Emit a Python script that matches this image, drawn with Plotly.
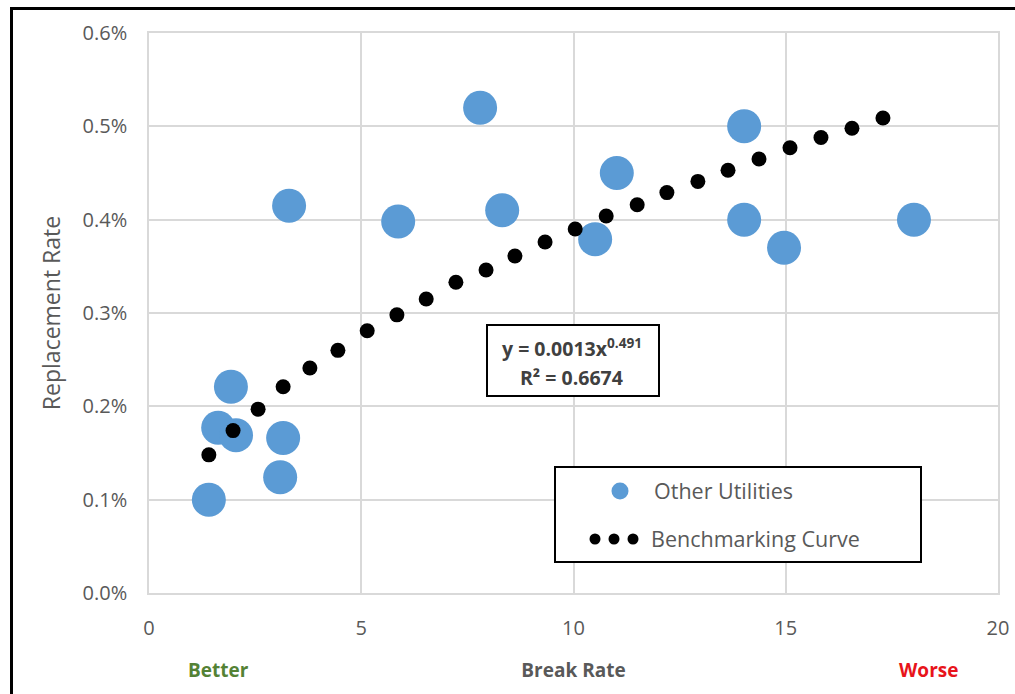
import plotly.graph_objects as go

# Other utilities (break rate, replacement rate as fraction)
util_break = [3.30, 7.80, 5.87, 8.32, 11.02, 10.51, 14.02, 14.02, 14.96, 18.02,
              1.93, 1.63, 2.05, 3.16, 3.09, 1.41]
util_repl = [0.00415, 0.00520, 0.00398, 0.00410, 0.00450, 0.00379, 0.00500, 0.00400,
             0.00370, 0.00400, 0.00221, 0.00177, 0.00169, 0.00166, 0.00124, 0.00100]

# benchmarking curve points
curve_break = [1.41, 1.98, 2.57, 3.16, 3.79, 4.45, 5.14, 5.84, 6.53, 7.23, 7.94, 8.62,
               9.33, 10.04, 10.77, 11.50, 12.20, 12.93, 13.64, 14.37, 15.10, 15.83,
               16.56, 17.29]
curve_repl = [0.00148, 0.00174, 0.00197, 0.00221, 0.00241, 0.00260, 0.00281, 0.00298,
              0.00315, 0.00333, 0.00346, 0.00361, 0.00376, 0.00390, 0.00404, 0.00416,
              0.00429, 0.00441, 0.00453, 0.00465, 0.00477, 0.00488, 0.00498, 0.00509]

x_ticks = [0, 5, 10, 15, 20]
y_ticks = [0, 0.001, 0.002, 0.003, 0.004, 0.005, 0.006]

FONT = "Open Sans"
GRAY = "#595959"
GRID = "#D9D9D9"
BLUE = "#5B9BD5"

W, H = 1015, 694
# plot area in pixels
L, R, T, B = 149, 998, 33, 593


def px(x):
    return (x - L) / (R - L)


def py(y):
    return (B - y) / (B - T)


def label(text, x, y, size, color, xanchor="center"):
    return dict(text=text, xref="paper", yref="paper", x=px(x), y=py(y),
                xanchor=xanchor, yanchor="middle", showarrow=False,
                font=dict(size=size, color=color))


fig = go.Figure()
fig.add_trace(
    go.Scatter(
        x=util_break,
        y=util_repl,
        mode="markers",
        name="Other Utilities",
        marker=dict(size=34, color=BLUE, line=dict(width=0)),
        showlegend=False,
    )
)
fig.add_trace(
    go.Scatter(
        x=curve_break,
        y=curve_repl,
        mode="markers",
        name="Benchmarking Curve",
        marker=dict(size=15, color="black", line=dict(width=0)),
        showlegend=False,
    )
)

shapes = [
    # outer frame (only top and left visible)
    dict(type="line", xref="paper", yref="paper", x0=px(11.5), x1=px(1030),
         y0=py(8.5), y1=py(8.5), line=dict(color="black", width=3)),
    dict(type="line", xref="paper", yref="paper", x0=px(11.5), x1=px(11.5),
         y0=py(7), y1=py(710), line=dict(color="black", width=3)),
    # equation box
    dict(type="rect", xref="paper", yref="paper", x0=px(487), x1=px(659),
         y0=py(325), y1=py(396), line=dict(color="black", width=2),
         fillcolor="white", layer="above"),
    # legend box
    dict(type="rect", xref="paper", yref="paper", x0=px(555), x1=px(921),
         y0=py(467), y1=py(562), line=dict(color="black", width=2),
         fillcolor="white", layer="above"),
    # legend swatches
    dict(type="circle", xref="paper", yref="paper", xsizemode="pixel", ysizemode="pixel",
         xanchor=px(620), yanchor=py(491), x0=-8.5, x1=8.5, y0=-8.5, y1=8.5,
         fillcolor=BLUE, line=dict(width=0), layer="above"),
]
for cx in (595, 614, 633):
    shapes.append(
        dict(type="circle", xref="paper", yref="paper", xsizemode="pixel", ysizemode="pixel",
             xanchor=px(cx), yanchor=py(539), x0=-5.5, x1=5.5, y0=-5.5, y1=5.5,
             fillcolor="black", line=dict(width=0), layer="above")
    )

annotations = [
    label("<b>y = 0.0013x<sup>0.491</sup></b>", 572, 347, 19.5, "#404040"),
    label("<b>R² = 0.6674</b>", 571, 377, 19.5, "#404040"),
    label("Other Utilities", 652, 490, 21.5, GRAY, xanchor="left"),
    label("Benchmarking Curve", 649, 538, 21.5, GRAY, xanchor="left"),
    label("<b>Better</b>", 218, 670, 19, "#548235"),
    label("<b>Worse</b>", 928, 670, 19, "#E8141B"),
]

axis_style = dict(
    showgrid=True,
    gridcolor=GRID,
    gridwidth=1.5,
    zeroline=False,
    showline=True,
    linecolor=GRID,
    linewidth=1.5,
    mirror=True,
    ticks="",
    automargin=False,
    tickfont=dict(size=20, color=GRAY),
)

fig.update_layout(
    width=W,
    height=H,
    margin=dict(l=L, r=W - R, t=T, b=H - B),
    paper_bgcolor="white",
    plot_bgcolor="white",
    font=dict(family=FONT, size=20, color=GRAY),
    shapes=shapes,
    annotations=annotations,
    xaxis=dict(
        range=[0, 20],
        tickvals=x_ticks,
        ticklabelstandoff=16,
        title=dict(text="<b>Break Rate</b>", font=dict(size=19, color=GRAY), standoff=24),
        **axis_style,
    ),
    yaxis=dict(
        range=[0, 0.006],
        tickvals=y_ticks,
        tickformat=".1%",
        ticklabelstandoff=16,
        title=dict(text="Replacement Rate", font=dict(size=23, color=GRAY), standoff=16),
        **axis_style,
    ),
)

# drop the default page margin so the 1015x694 figure fills the window exactly
fig.write_html(
    "out.html",
    config={"displayModeBar": False},
    post_script="document.body.style.margin='0';",
)
